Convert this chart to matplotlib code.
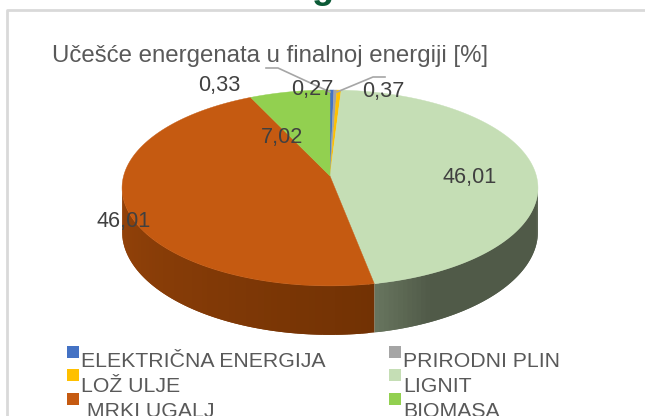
import numpy as np
import matplotlib
matplotlib.use("Agg")
from matplotlib import pyplot as plt
from matplotlib.patches import Polygon, Rectangle

# Data (same order as the legend, clockwise from the top)
categories = ['ELEKTRIČNA ENERGIJA', 'PRIRODNI PLIN', 'LOŽ ULJE', 'LIGNIT', ' MRKI UGALJ', 'BIOMASA']
values = [0.33, 0.27, 0.37, 46.01, 46.01, 7.02]
value_labels = ['0,33', '0,27', '0,37', '46,01', '46,01', '7,02']
colors = ['#4472c4', '#a5a5a5', '#ffc000', '#c5deb5', '#c55a11', '#92d050']
side_colors = ['#2a4a80', '#666666', '#a07800', '#505a48', '#723204', '#5c8a30']
title = 'Učešće energenata u finalnoj energiji [%]'

# Pie geometry in pixels, with a simple perspective factor
cx, cy = 330, 176
rx, ry = 206.4, 96.5
persp = 0.122
depth = 43

plt.rcParams['font.family'] = ['Liberation Sans', 'DejaVu Sans']

fig = plt.figure(figsize=(6.45, 4.16), dpi=100)
ax = fig.add_axes([0, 0, 1, 1])
ax.set_xlim(0, 645)
ax.set_ylim(416, 0)
ax.axis('off')


def rim(theta):
    # theta in degrees, clockwise from the top
    t = np.radians(theta)
    w = 1 + persp * np.cos(t)
    return cx + rx * np.sin(t) / w, cy - ry * np.cos(t) / w, depth / w


# Chart frame
ax.plot([645, 7, 7], [10, 10, 416], color='#d9d9d9', lw=2, zorder=1)

# Clipped heading above the frame
ax.text(323, -12, 'g', color='#0b5a36', fontsize=26, fontweight='bold',
        ha='center', va='center', zorder=1, clip_on=False)

edges = np.concatenate([[0], np.cumsum(values)]) / sum(values) * 360

# Side wall, only the visible front part of the pie
for i in range(len(values)):
    start = max(edges[i], 97)
    end = min(edges[i + 1], 263)
    if end <= start:
        continue
    thetas = np.linspace(start, end, 60)
    base = np.array(matplotlib.colors.to_rgb(side_colors[i]))
    top = np.array(matplotlib.colors.to_rgb(colors[i]))
    # walk away from the seam so every strip overlaps the one before it
    if i == 3:
        thetas = thetas[::-1]
    for a, b in zip(thetas[:-2], thetas[2:]):
        xa, ya, da = rim(a)
        xb, yb, db = rim(b)
        if i == 3:
            shade = 0.2 * np.clip(1 - (edges[i + 1] - a) / 14, 0, 1)
        else:
            shade = 0.42 * np.clip((a - edges[i]) / (263 - edges[i]), 0, 1)
        col = base + (top - base) * shade
        ax.add_patch(Polygon([(xa, ya), (xb, yb), (xb, yb + db), (xa, ya + da)],
                             facecolor=col, edgecolor='none', zorder=2))

# Top face
for i in range(len(values)):
    thetas = np.linspace(edges[i], edges[i + 1], 200)
    x, y, _ = rim(thetas)
    pts = np.column_stack([np.r_[cx, x], np.r_[cy, y]])
    ax.add_patch(Polygon(pts, facecolor=colors[i], edgecolor=colors[i], lw=0.3, zorder=3))

# Leader lines for the thin slices
leaders = [([266, 278, 330], [68, 68, 92]), ([385, 373, 337], [77, 77, 92])]
for lx, ly in leaders:
    ax.plot(lx, ly, color='#a6a6a6', lw=1.2, zorder=4)

# Value labels
label_pos = [(219, 85), (312, 89), (383, 91), (470, 178), (124, 222), (282, 138)]
for lab, (tx, ty) in zip(value_labels, label_pos):
    ax.text(tx, ty, lab, fontsize=15.6, color='#404040', ha='center', va='center', zorder=5)

ax.text(52, 62, title, fontsize=17.3, color='#595959', ha='left', va='baseline', zorder=5)

# Legend
col_x = [67, 389]
row_y = [346, 369, 393]
text_y = [367, 392, 417]
for i, name in enumerate(categories):
    sx = col_x[i % 2]
    ax.add_patch(Rectangle((sx, row_y[i // 2]), 12, 12, facecolor=colors[i], edgecolor='none', zorder=5))
    ax.text(sx + 14, text_y[i // 2], name, fontsize=15.3, color='#595959', ha='left', va='baseline', zorder=5)

fig.savefig('out.png', dpi=100)
